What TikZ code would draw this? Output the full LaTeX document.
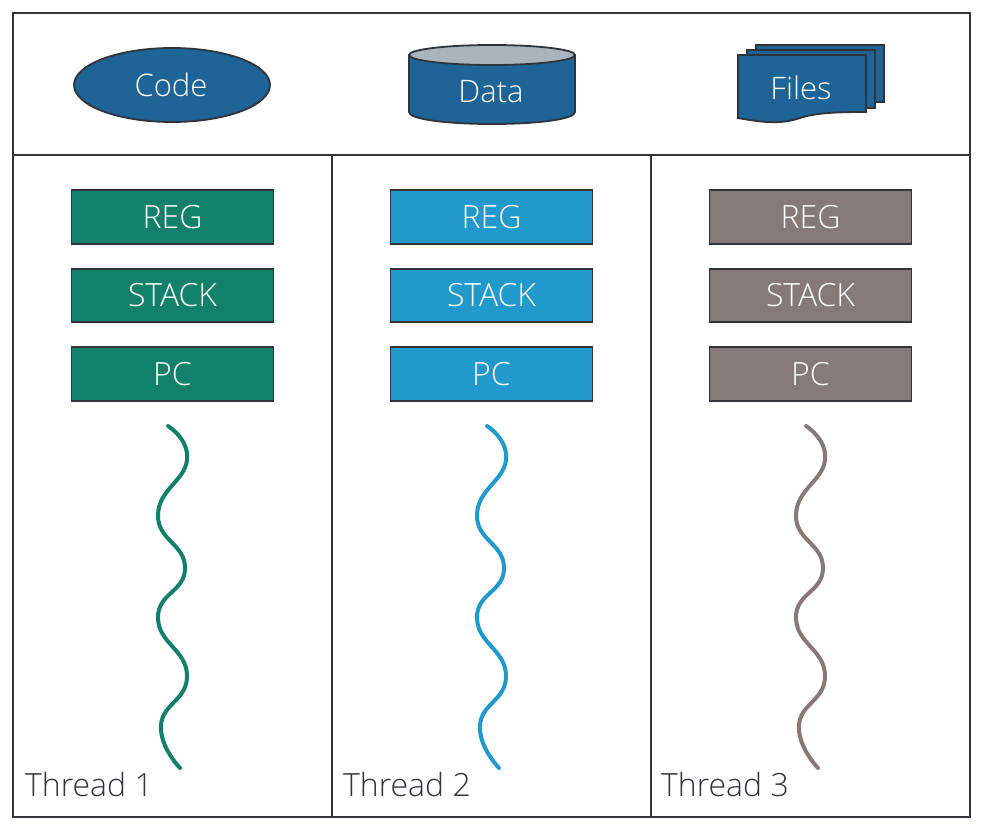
\documentclass[tikz,border=0pt]{standalone}
\usepackage{fontspec}
\usetikzlibrary{shapes.geometric}
\setmainfont{Open Sans}[UprightFont=* Light]
\definecolor{tgreen}{HTML}{12806B}
\definecolor{tblue}{HTML}{2299CC}
\definecolor{tgray}{HTML}{857A78}
\definecolor{res}{HTML}{1F6497}
\definecolor{ink}{HTML}{30343A}
\definecolor{lid}{HTML}{A9B4BC}
\tikzset{
  frameline/.style={draw=ink,line width=1.8pt},
  resshape/.style={fill=res,draw=ink,line width=1.8pt},
  restext/.style={text=white,font=\fontsize{31}{34}\selectfont,inner sep=0pt},
  regbox/.style={minimum width=202pt,minimum height=53.5pt,inner sep=0pt,draw=ink,line width=1.6pt,text=white,font=\fontsize{32}{35}\selectfont},
  wave/.style={line width=4pt,line cap=round},
  threadlabel/.style={text=ink,anchor=base west,inner sep=0pt,font=\fontsize{32}{35}\selectfont}
}
\begin{document}
\begin{tikzpicture}[x=1pt,y=-1pt]
\useasboundingbox (0,0) rectangle (983,830);
\fill[white] (0,0) rectangle (983,830);
% frame
\draw[frameline] (13,13) rectangle (970,817);
\draw[frameline] (13,155) -- (970,155);
\draw[frameline] (332,155) -- (332,817);
\draw[frameline] (651,155) -- (651,817);
% code
\node[ellipse,resshape,minimum width=196pt,minimum height=74pt,inner sep=0pt] (code) at (172,85) {};
\node[restext] (codet) at (171,85) {Code};
% data
\draw[resshape] (409,55) -- (409,112) .. controls (409,119) and (445,124) .. (492,124) .. controls (539,124) and (575,119) .. (575,112) -- (575,55) -- cycle;
\draw[fill=lid,draw=ink,line width=1.8pt] (492,55) ellipse [x radius=83,y radius=10];
\node[restext] (datat) at (491,92) {Data};
% files
\draw[resshape] (756,45) rectangle (884,102);
\draw[resshape] (747,50) rectangle (875,108);
\draw[resshape] (738,55) -- (866,55) -- (866,112) .. controls (835,112) and (815,113) .. (800,118) .. controls (780,125) and (760,122) .. (738,118) -- cycle;
\node[restext] (filest) at (801,88) {Files};
% columns
\foreach \dx/\c/\n in {0/tgreen/1,319/tblue/2,638/tgray/3}{
  \node[regbox,fill=\c] (reg\n) at (172.5+\dx,217) {REG};
  \node[regbox,fill=\c] (stack\n) at (172.5+\dx,295.5) {STACK};
  \node[regbox,fill=\c] (pc\n) at (172.5+\dx,374) {PC};
  \draw[wave,draw=\c] plot[smooth,tension=0.85] coordinates {(168+\dx,426) (187+\dx,460) (158+\dx,515) (185+\dx,568) (158+\dx,618) (187+\dx,675) (161+\dx,725) (180+\dx,768)};
  \node[threadlabel] (t\n) at (25+\dx-\n+1,796) {Thread \n};
}
\end{tikzpicture}
\end{document}
